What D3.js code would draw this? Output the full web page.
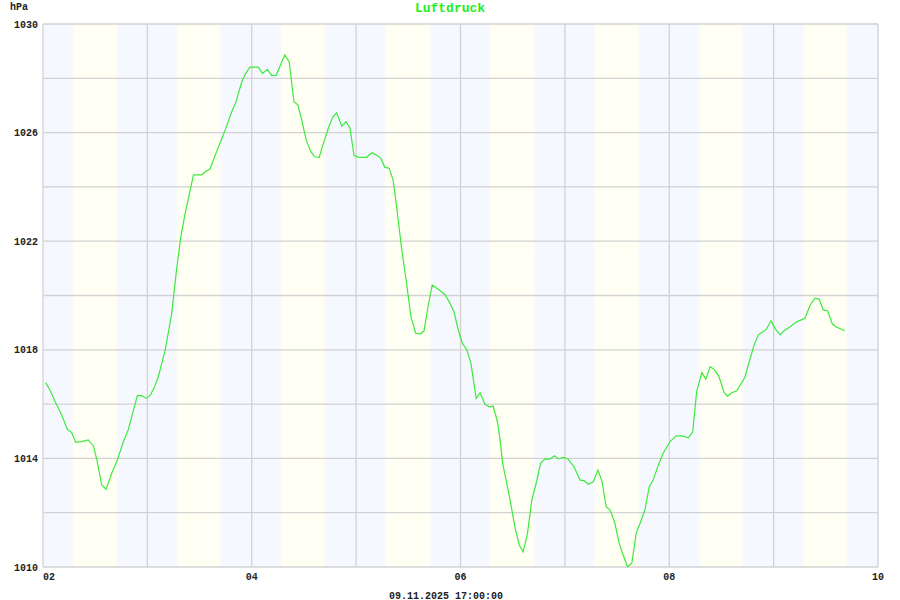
<!DOCTYPE html>
<html lang="de">
<head>
<meta charset="UTF-8">
<title>Luftdruck</title>
<script src="https://d3js.org/d3.v7.min.js"></script>
<style>
    body { margin: 0; background: #fff; }
    .tick-label { font-family: "Liberation Mono", "DejaVu Sans Mono", monospace; font-weight: bold; font-size: 10px; fill: #222; }
    .title { font-family: "Liberation Mono", monospace; font-weight: bold; font-size: 13px; fill: #22ee22; }
</style>
</head>
<body>
<svg width="900" height="600"></svg>
<script>
    // hours since 02.11.2025 00:00 and pressure in hPa
    var hours = [0.6, 1.6, 2.8, 4.3, 5.6, 6.6, 7.5, 8.9, 10.4, 11.6, 12.4, 13.5, 14.5, 15.8, 17.1, 18.5, 19.6, 20.4, 21.7, 22.7,
        23.7, 24.6, 25.5, 26.5, 28.1, 29.6, 30.7, 31.7, 32.7, 34.6, 36.5, 37.3, 38.4, 39.6, 40.7, 41.9, 43.4, 44.4, 45.7, 46.6,
        47.6, 49.5, 50.5, 51.6, 52.6, 53.6, 54.7, 55.6, 56.6, 57.7, 58.6, 59.5, 60.5, 61.6, 62.5, 63.5, 64.5, 65.6, 66.6, 67.5,
        68.7, 69.7, 70.6, 71.5, 72.5, 74.4, 75.6, 76.7, 77.7, 78.6, 79.6, 80.5, 81.4, 82.5, 83.6, 84.6, 85.7, 86.7, 87.6, 88.6,
        89.5, 90.9, 92.4, 93.6, 94.5, 95.5, 96.4, 97.4, 98.4, 99.6, 100.5, 101.6, 102.6, 103.5, 104.5, 105.1, 105.7, 107.4, 108.5, 109.5,
        110.4, 111.4, 112.4, 113.5, 114.4, 115.4, 116.6, 117.6, 118.5, 119.6, 120.7, 122.1, 123.5, 124.4, 125.4, 126.5, 127.6, 128.5, 129.5, 130.4,
        131.5, 132.5, 133.4, 134.4, 135.4, 136.4, 137.3, 138.4, 139.4, 140.3, 141.5, 142.6, 144.2, 145.6, 146.9, 148.4, 149.4, 150.3, 151.5, 152.4,
        153.4, 154.3, 155.4, 156.6, 157.4, 158.4, 159.5, 161.4, 162.4, 163.5, 164.5, 166.3, 167.4, 168.3, 169.5, 170.4, 171.8, 173.3, 175.2, 176.4,
        177.5, 178.5, 179.4, 180.4, 181.5, 182.5, 184.4];
    var pressure = [1016.79, 1016.52, 1016.09, 1015.60, 1015.07, 1014.95, 1014.59, 1014.62, 1014.68, 1014.46, 1013.94, 1013.02, 1012.87, 1013.45, 1013.94, 1014.62, 1015.05, 1015.54, 1016.31, 1016.31,
        1016.21, 1016.31, 1016.58, 1017.00, 1017.99, 1019.34, 1020.94, 1022.17, 1023.03, 1024.44, 1024.44, 1024.56, 1024.66, 1025.17, 1025.61, 1026.10, 1026.77, 1027.14, 1027.87, 1028.18,
        1028.41, 1028.41, 1028.18, 1028.33, 1028.10, 1028.11, 1028.53, 1028.86, 1028.61, 1027.14, 1027.02, 1026.46, 1025.73, 1025.30, 1025.11, 1025.09, 1025.61, 1026.16, 1026.56, 1026.73,
        1026.24, 1026.40, 1026.16, 1025.17, 1025.09, 1025.09, 1025.26, 1025.17, 1025.05, 1024.72, 1024.69, 1024.25, 1023.15, 1021.68, 1020.45, 1019.22, 1018.61, 1018.58, 1018.69, 1019.65,
        1020.39, 1020.23, 1020.04, 1019.71, 1019.40, 1018.73, 1018.24, 1018.02, 1017.50, 1016.21, 1016.42, 1016.00, 1015.90, 1015.93, 1015.35, 1014.68, 1013.82, 1012.47, 1011.48, 1010.81,
        1010.56, 1011.24, 1012.47, 1013.14, 1013.82, 1013.98, 1013.97, 1014.10, 1013.98, 1014.04, 1013.98, 1013.69, 1013.20, 1013.18, 1013.05, 1013.14, 1013.57, 1013.18, 1012.22, 1012.10,
        1011.61, 1010.87, 1010.44, 1010.01, 1010.14, 1011.24, 1011.61, 1012.10, 1012.96, 1013.20, 1013.76, 1014.19, 1014.62, 1014.83, 1014.83, 1014.76, 1014.98, 1016.46, 1017.16, 1016.92,
        1017.38, 1017.28, 1017.03, 1016.43, 1016.29, 1016.42, 1016.49, 1016.99, 1017.56, 1018.18, 1018.55, 1018.75, 1019.07, 1018.79, 1018.55, 1018.70, 1018.85, 1019.03, 1019.16, 1019.65,
        1019.90, 1019.86, 1019.47, 1019.44, 1018.95, 1018.83, 1018.70];

    // daylight periods (hours of each day), days 02..09
    var days = [2, 3, 4, 5, 6, 7, 8, 9];
    var sunrise = [6.9, 6.8, 6.6, 6.7, 6.8, 6.8, 6.9, 6.9];
    var sunset = [17.0, 16.8, 16.8, 17.0, 16.9, 16.9, 16.8, 16.8];

    var xTickDays = [2, 4, 6, 8, 10];
    var yTicks = [1010, 1014, 1018, 1022, 1026, 1030];
    var stamp = "09.11.2025 17:00:00";

    var padding = { top: 24, right: 22, bottom: 33, left: 43 };
    var w = 900, h = 600;
    var svg = d3.select("svg");

    var t0 = new Date(2025, 10, 2);
    var toDate = hh => new Date(t0.getTime() + hh * 3600 * 1000);

    var x = d3.scaleTime()
        .domain([t0, new Date(2025, 10, 10)])
        .range([padding.left, w - padding.right]);
    var y = d3.scaleLinear()
        .domain([1010, 1030])
        .range([h - padding.bottom, padding.top]);

    // day / night background as a horizontal gradient
    var blue = "#f6f8ff", yellow = "#fffff3", fade = 0.45;
    var defs = svg.append("defs");
    var grad = defs.append("linearGradient")
        .attr("id", "daynight")
        .attr("gradientUnits", "userSpaceOnUse")
        .attr("x1", x.range()[0]).attr("x2", x.range()[1])
        .attr("y1", 0).attr("y2", 0);
    var span = x.range()[1] - x.range()[0];
    var off = hh => (x(toDate(hh)) - x.range()[0]) / span;
    grad.append("stop").attr("offset", 0).attr("stop-color", blue);
    days.forEach((d, i) => {
        var base = (d - 2) * 24;
        [[sunrise[i] - fade, blue], [sunrise[i] + fade, yellow],
         [sunset[i] - fade, yellow], [sunset[i] + fade, blue]].forEach(s => {
            grad.append("stop").attr("offset", off(base + s[0])).attr("stop-color", s[1]);
        });
    });
    grad.append("stop").attr("offset", 1).attr("stop-color", blue);

    svg.append("rect")
        .attr("x", x.range()[0])
        .attr("y", y.range()[1])
        .attr("width", span)
        .attr("height", y.range()[0] - y.range()[1])
        .attr("fill", "url(#daynight)");

    // grid
    var grid = svg.append("g").attr("stroke", "#d2d2d2").attr("stroke-width", 1.3);
    grid.selectAll("line.h")
        .data(d3.range(1010, 1031, 2))
        .enter().append("line")
        .attr("x1", x.range()[0]).attr("x2", x.range()[1])
        .attr("y1", d => y(d)).attr("y2", d => y(d));
    grid.selectAll("line.v")
        .data(d3.range(2, 11))
        .enter().append("line")
        .attr("x1", d => x(new Date(2025, 10, d))).attr("x2", d => x(new Date(2025, 10, d)))
        .attr("y1", y.range()[0]).attr("y2", y.range()[1]);

    // line
    var series = hours.map((hh, i) => ({ t: toDate(hh), v: pressure[i] }));
    svg.append("path")
        .datum(series)
        .attr("fill", "none")
        .attr("stroke", "#3cea3c")
        .attr("stroke-width", 1.2)
        .attr("d", d3.line().x(d => x(d.t)).y(d => y(d.v)));

    // y labels
    svg.append("g").selectAll("text")
        .data(yTicks)
        .enter().append("text")
        .attr("class", "tick-label")
        .attr("x", 38)
        .attr("y", d => y(d))
        .attr("dy", "0.35em")
        .attr("text-anchor", "end")
        .text(d => d);

    // x labels
    svg.append("g").selectAll("text")
        .data(xTickDays)
        .enter().append("text")
        .attr("class", "tick-label")
        .attr("x", d => x(new Date(2025, 10, d)))
        .attr("y", 576)
        .attr("dy", "0.35em")
        .attr("text-anchor", (d, i) => i === 0 ? "start" : "middle")
        .text(d => d3.format("02d")(d));

    svg.append("text")
        .attr("class", "tick-label")
        .attr("x", 10).attr("y", 6).attr("dy", "0.35em")
        .text("hPa");

    svg.append("text")
        .attr("class", "title")
        .attr("x", 450).attr("y", 7).attr("dy", "0.35em")
        .attr("text-anchor", "middle")
        .text("Luftdruck");

    svg.append("text")
        .attr("class", "tick-label")
        .attr("x", 446).attr("y", 595).attr("dy", "0.35em")
        .attr("text-anchor", "middle")
        .text(stamp);
</script>
</body>
</html>
